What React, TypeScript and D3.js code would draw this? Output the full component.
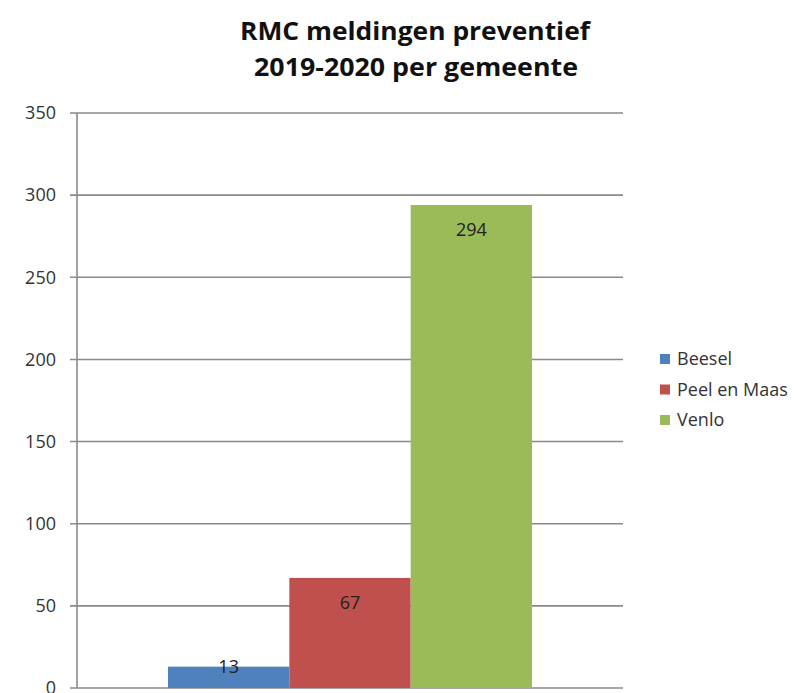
import React from "react";
import * as d3 from "d3";

const titleLines = ["RMC meldingen preventief", "2019-2020 per gemeente"];
const categories = ["Beesel", "Peel en Maas", "Venlo"];
const values = [13, 67, 294];
const colors = ["#4F81BD", "#C0504D", "#9BBB59"];
const yTicks = [0, 50, 100, 150, 200, 250, 300, 350];

export default function App() {
  const W = 805, H = 693;
  const left = 77, right = 623, top = 113, bottom = 688;
  const y = d3.scaleLinear().domain([0, 350]).range([bottom, top]);
  const catW = right - left;
  const barW = catW / 4.5; // Excel gap width 150%
  const x0 = left + (catW - 3 * barW) / 2;
  const x = d3.scaleBand().domain(categories).range([x0, x0 + 3 * barW]).padding(0);
  const font = "'Open Sans', 'DejaVu Sans', sans-serif";
  return (
    <svg width={W} height={H} style={{ position: "absolute", left: 0, top: 0, background: "#fff" }}>
      <rect width={W} height={H} fill="#fff" />
      <text x={415} y={40} textAnchor="middle" fontFamily={font} fontWeight={700} fontSize={25} fill="#111" textLength={350} lengthAdjust="spacingAndGlyphs">{titleLines[0]}</text>
      <text x={416} y={76} textAnchor="middle" fontFamily={font} fontWeight={700} fontSize={25} fill="#111" textLength={324} lengthAdjust="spacingAndGlyphs">{titleLines[1]}</text>
      {yTicks.map((t) => (
        <g key={t}>
          <line x1={70} x2={right} y1={y(t)} y2={y(t)} stroke="#8a8a8a" strokeWidth={1.6} />
          <text x={56} y={y(t)} dy="0.35em" textAnchor="end" fontFamily={font} fontSize={18} fill="#333">{t}</text>
        </g>
      ))}
      <line x1={left} x2={left} y1={top} y2={bottom} stroke="#8a8a8a" strokeWidth={1.6} />
      {categories.map((c, i) => {
        const bx = x(c)!;
        const by = y(values[i]);
        const h = bottom - by;
        const ly = h < 40 ? by : by + 25;
        return (
          <g key={c}>
            <rect x={bx} y={by} width={x.bandwidth()} height={h} fill={colors[i]} />
            <text x={bx + x.bandwidth() / 2} y={ly} dy="0.35em" textAnchor="middle" fontFamily={font} fontSize={18} fill="#222">{values[i]}</text>
          </g>
        );
      })}
      {categories.map((c, i) => (
        <g key={c} transform={`translate(660, ${359 + i * 30.5})`}>
          <rect x={0} y={-5} width={10} height={10} fill={colors[i]} />
          <text x={17} y={0} dy="0.35em" fontFamily={font} fontSize={18} fill="#333">{c}</text>
        </g>
      ))}
    </svg>
  );
}
